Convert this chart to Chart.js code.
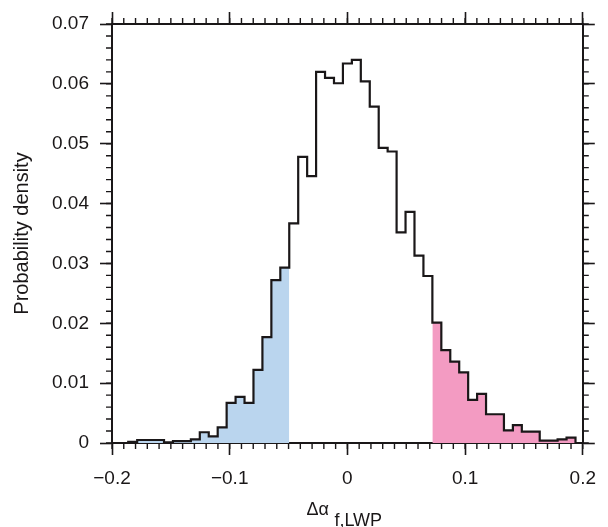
<!DOCTYPE html>
<html>
<head>
<meta charset="utf-8">
<script src="https://cdn.jsdelivr.net/npm/chart.js@4.4.0/dist/chart.umd.min.js"></script>
<style>
  body { margin: 0; background: #fff; }
</style>
</head>
<body>
<canvas id="histChart" width="608" height="527"></canvas>
<script>
// Histogram of delta alpha (f,LWP): 50 equal bins
const BIN_START = -0.1862;
const BIN_WIDTH = 0.0076;

// probability density per bin
const densities = [
    0.0002, 0.0005, 0.0005, 0.0005, 0.0001, 0.0003, 0.0003, 0.0006, 0.0018, 0.0011,
    0.0026, 0.0067, 0.0077, 0.0067, 0.0122, 0.0177, 0.0272, 0.0293, 0.0367, 0.0478,
    0.0446, 0.0620, 0.0610, 0.0601, 0.0634, 0.0640, 0.0604, 0.0562, 0.0493, 0.0487,
    0.0352, 0.0386, 0.0313, 0.0279, 0.0201, 0.0155, 0.0136, 0.0118, 0.0072, 0.0082,
    0.0048, 0.0048, 0.0021, 0.0030, 0.0019, 0.0019, 0.0004, 0.0004, 0.0006, 0.0009
];

// shaded tails (bin indices)
const lowTail = [0, 18];    // blue: bins 0..17
const highTail = [34, 50];  // pink: bins 34..49

const xTicks = [-0.2, -0.1, 0, 0.1, 0.2];
const yTicks = [0, 0.01, 0.02, 0.03, 0.04, 0.05, 0.06, 0.07];
const xMinorStep = 0.01;
const yMinorStep = 0.002;

const AXIS_COLOR = '#1a1718';
const FONT = '"Liberation Sans", Arial, Helvetica, sans-serif';

Chart.defaults.font.family = FONT;
Chart.defaults.color = AXIS_COLOR;

function edge(i) {
    return BIN_START + i * BIN_WIDTH;
}

// points for a stepped line, one per bin left edge, closing to zero
function stepPoints(from, to) {
    const pts = [];
    for (let i = from; i < to; i++) {
        pts.push({ x: edge(i), y: densities[i] });
    }
    pts.push({ x: edge(to), y: 0 });
    return pts;
}

const outline = [{ x: -0.2, y: 0 }].concat(stepPoints(0, densities.length), [{ x: 0.2, y: 0 }]);

function tickLabel(v) {
    return v < 0 ? '\u2212' + (-v) : String(v);
}

function frameAxis(axis, position, size, showLabels, ticksList) {
    const isX = axis === 'x';
    return {
        type: 'linear',
        axis: axis,
        position: position,
        min: isX ? -0.2 : 0,
        max: isX ? 0.2 : 0.07,
        afterBuildTicks: s => { s.ticks = ticksList.map(v => ({ value: v })); },
        afterFit: s => {
            if (isX) s.height = size; else s.width = size;
        },
        ticks: {
            display: showLabels,
            callback: tickLabel,
            autoSkip: false,
            maxRotation: 0,
            padding: isX ? 12 : 11,
            font: { size: 19 },
            color: AXIS_COLOR
        },
        grid: {
            drawOnChartArea: false,
            drawTicks: true,
            tickLength: 12,
            tickColor: AXIS_COLOR,
            tickWidth: 1.6
        },
        border: { color: AXIS_COLOR, width: 2 }
    };
}

// minor tick marks on all four sides
const minorTicks = {
    id: 'minorTicks',
    afterDraw(chart) {
        const ctx = chart.ctx;
        const { left, right, top, bottom } = chart.chartArea;
        const xs = chart.scales.x;
        const ys = chart.scales.y;
        ctx.save();
        ctx.strokeStyle = AXIS_COLOR;
        ctx.lineWidth = 1.4;
        ctx.beginPath();
        const nx = Math.round((xs.max - xs.min) / xMinorStep);
        for (let i = 0; i <= nx; i++) {
            const px = xs.getPixelForValue(xs.min + i * xMinorStep);
            ctx.moveTo(px, bottom);
            ctx.lineTo(px, bottom + 6);
            ctx.moveTo(px, top);
            ctx.lineTo(px, top - 6);
        }
        const ny = Math.round((ys.max - ys.min) / yMinorStep);
        for (let i = 0; i <= ny; i++) {
            const py = ys.getPixelForValue(ys.min + i * yMinorStep);
            ctx.moveTo(left, py);
            ctx.lineTo(left - 6, py);
            ctx.moveTo(right, py);
            ctx.lineTo(right + 6, py);
        }
        ctx.stroke();
        ctx.restore();
    }
};

// x axis title with subscript
const xTitle = {
    id: 'xTitle',
    afterDraw(chart) {
        const ctx = chart.ctx;
        const area = chart.chartArea;
        const cx = (area.left + area.right) / 2;
        ctx.save();
        ctx.fillStyle = AXIS_COLOR;
        ctx.textAlign = 'left';
        ctx.textBaseline = 'alphabetic';
        ctx.font = '18px ' + FONT;
        ctx.fillText('\u0394\u03b1', cx - 41, area.bottom + 72);
        ctx.fillText('f,LWP', cx - 13, area.bottom + 83);
        ctx.restore();
    }
};

new Chart(document.getElementById('histChart'), {
    type: 'line',
    data: {
        datasets: [
            {
                label: 'density',
                data: outline,
                stepped: true,
                borderColor: AXIS_COLOR,
                borderWidth: 2.2,
                pointRadius: 0,
                fill: false,
                order: 0
            },
            {
                label: 'low tail',
                data: stepPoints(lowTail[0], lowTail[1]),
                stepped: true,
                borderWidth: 0,
                pointRadius: 0,
                backgroundColor: '#bad5ee',
                fill: 'origin',
                order: 1
            },
            {
                label: 'high tail',
                data: stepPoints(highTail[0], highTail[1]),
                stepped: true,
                borderWidth: 0,
                pointRadius: 0,
                backgroundColor: '#f39bc2',
                fill: 'origin',
                order: 1
            }
        ]
    },
    options: {
        responsive: false,
        animation: false,
        layout: { padding: 0 },
        plugins: {
            legend: { display: false },
            tooltip: { enabled: false }
        },
        scales: {
            x: frameAxis('x', 'bottom', 84, true, xTicks),
            x2: frameAxis('x', 'top', 24, false, xTicks),
            y: Object.assign(frameAxis('y', 'left', 112, true, yTicks), {
                title: {
                    display: true,
                    text: 'Probability density',
                    font: { size: 20 },
                    color: AXIS_COLOR,
                    padding: { top: 10, bottom: 0 }
                }
            }),
            y2: frameAxis('y', 'right', 25, false, yTicks)
        }
    },
    plugins: [minorTicks, xTitle]
});
</script>
</body>
</html>
